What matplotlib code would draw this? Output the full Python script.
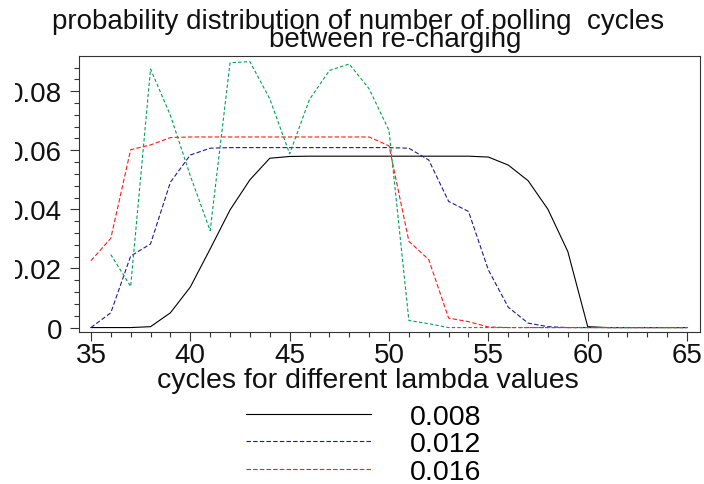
import numpy as np
import matplotlib.pyplot as plt
from matplotlib.ticker import MultipleLocator, FixedLocator, FixedFormatter
from matplotlib.patches import Rectangle

plt.rcParams['font.family'] = ['Liberation Sans', 'DejaVu Sans']

# polling cycles between re-charging
cycles = np.arange(35, 66)

# probability per cycle count, one list per lambda
p_008 = [0, 0, 0, 0.0003, 0.005, 0.0137, 0.0266, 0.0398, 0.050, 0.0573,
         0.0579, 0.058, 0.058, 0.058, 0.058, 0.058, 0.058, 0.058, 0.058, 0.058,
         0.0577, 0.055, 0.0497, 0.040, 0.0257, 0.0003, 0, 0, 0, 0, 0]
p_012 = [0, 0.005, 0.0242, 0.0283, 0.0492, 0.0584, 0.0607, 0.0609, 0.0609, 0.0609,
         0.0609, 0.0609, 0.0609, 0.0609, 0.0609, 0.0609, 0.0607, 0.0567, 0.0427, 0.0393,
         0.0195, 0.0069, 0.0015, 0.0003, 0, 0, 0, 0, 0, 0, 0]
p_016 = [0.0226, 0.0302, 0.0602, 0.0618, 0.0643, 0.0645, 0.0645, 0.0645, 0.0645, 0.0645,
         0.0645, 0.0645, 0.0645, 0.0645, 0.0645, 0.0615, 0.0292, 0.0230, 0.0032, 0.002,
         0.0002, 0, 0, 0, 0, 0, 0, 0, 0, 0, 0]
# last lambda starts at 36 cycles
cycles_020 = np.arange(36, 66)
p_020 = [0.0247, 0.0139, 0.0875, 0.0718, 0.0514, 0.0328, 0.0896, 0.0900, 0.0774, 0.0588,
         0.0772, 0.0870, 0.0892, 0.0808, 0.0667, 0.0024, 0.0013, 0, 0, 0,
         0, 0, 0, 0, 0, 0, 0, 0, 0, 0]

labels = ["0.008", "0.012", "0.016"]
ytick_vals = [0, 0.02, 0.04, 0.06, 0.08]
ytick_txt = ["0", "0.02", "0.04", "0.06", "0.08"]

W, H = 704, 485
fig = plt.figure(figsize=(W/100, H/100), dpi=100)
ax = fig.add_axes([79/W, 1 - 333/H, 621/W, 276/H])

l1, = ax.plot(cycles, p_008, color='black', lw=0.8, ls='-')
l2, = ax.plot(cycles, p_012, color='#1c1c8c', lw=0.8, ls=(0, (4, 2)))
l3, = ax.plot(cycles, p_016, color='#ff1a1a', lw=0.8, ls=(0, (4, 2)))
ax.plot(cycles_020, p_020, color='#00a055', lw=0.8, ls=(0, (3, 2)))

ax.set_xlim(34.4, 65.65)
ax.set_ylim(-0.0015, 0.0919)
ax.xaxis.set_major_locator(MultipleLocator(5))
ax.xaxis.set_minor_locator(MultipleLocator(1))
ax.yaxis.set_major_locator(FixedLocator(ytick_vals))
ax.yaxis.set_major_formatter(FixedFormatter(ytick_txt))
ax.yaxis.set_minor_locator(MultipleLocator(0.004))
ax.tick_params(which='major', direction='out', length=6.5, width=0.8, color='#333333',
               labelsize=20, labelcolor='#111111')
ax.tick_params(which='minor', direction='out', length=3.6, width=0.8, color='#333333')
ax.tick_params(axis='y', pad=5.5)
ax.tick_params(axis='x', pad=1)
for s in ax.spines.values():
    s.set_linewidth(0.8)
    s.set_color('#333333')

# left strip where the tick labels get cut off
fig.add_artist(Rectangle((0, 0), 15/W, 1, transform=fig.transFigure,
                         facecolor='white', edgecolor='none', zorder=10))

fig.text(358/W, 1 - 29/H, "probability distribution of number of polling  cycles",
         ha='center', va='baseline', fontsize=20, color='#111111')
fig.text(395/W, 1 - 47/H, "between re-charging",
         ha='center', va='baseline', fontsize=20, color='#111111')
fig.text(368/W, 1 - 388/H, "cycles for different lambda values",
         ha='center', va='baseline', fontsize=20.5, color='#111111')

# legend below the axes
fig.legend([l1, l2, l3], labels, loc='upper left', bbox_to_anchor=(246/W, 1 - 405/H),
           frameon=False, fontsize=20.5, handlelength=4.4, handletextpad=1.37,
           labelspacing=0.05, borderpad=0, borderaxespad=0)

fig.savefig("out.png", dpi=100)
